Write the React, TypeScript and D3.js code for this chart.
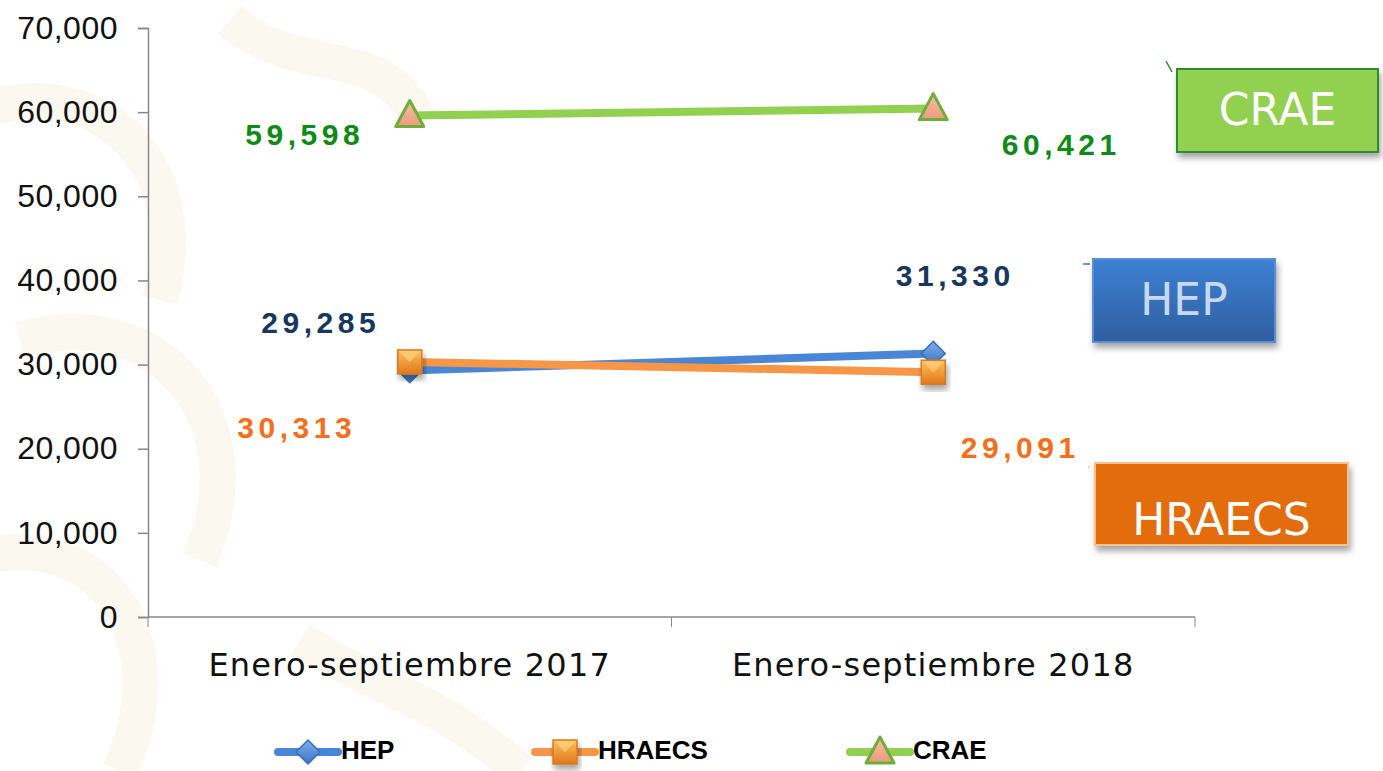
import { useRef, useEffect } from 'react';
import * as d3 from 'd3';

const categories = ['Enero-septiembre 2017', 'Enero-septiembre 2018'];
const seriesNames = ['HEP', 'HRAECS', 'CRAE'];
const hepValues = [29285, 31330];
const hraecsValues = [30313, 29091];
const craeValues = [59598, 60421];
const yTicks = [0, 10000, 20000, 30000, 40000, 50000, 60000, 70000];

const W = 1383;
const H = 771;

export default function App() {
  const svgRef = useRef<SVGSVGElement>(null);

  useEffect(() => {
    if (!svgRef.current) return;
    const svg = d3.select(svgRef.current);
    svg.selectAll('*').remove();

    const margin = { left: 148, right: 188, top: 28, bottom: 154 };

    const x = d3.scaleBand<string>()
      .domain(categories)
      .range([margin.left, W - margin.right]);
    const y = d3.scaleLinear()
      .domain([0, 70000])
      .range([H - margin.bottom, margin.top]);
    const cx = (c: string) => (x(c) || 0) + x.bandwidth() / 2;

    const defs = svg.append('defs');
    const shadow = defs.append('filter').attr('id', 'shadow')
      .attr('x', '-10%').attr('y', '-10%').attr('width', '130%').attr('height', '140%');
    shadow.append('feDropShadow')
      .attr('dx', 2).attr('dy', 5).attr('stdDeviation', 3)
      .attr('flood-color', '#000').attr('flood-opacity', 0.35);

    const grad = (id: string, c1: string, c2: string) => {
      const g = defs.append('linearGradient').attr('id', id)
        .attr('x1', 0).attr('y1', 0).attr('x2', 0).attr('y2', 1);
      g.append('stop').attr('offset', '0%').attr('stop-color', c1);
      g.append('stop').attr('offset', '100%').attr('stop-color', c2);
    };
    grad('hepBox', '#3d80d3', '#2f5f9f');
    grad('hepMark', '#7fb0ee', '#3a72c4');
    grad('hraMark', '#ffc060', '#e07818');
    grad('craeMark', '#f8c0a0', '#ec9a80');

    // faint watermark
    const wm = svg.append('g').attr('fill', 'none').attr('stroke', '#fbf8f0').attr('stroke-width', 36);
    wm.append('path').attr('d', 'M -40 120 C 80 60, 200 150, 160 300');
    wm.append('path').attr('d', 'M 20 340 C 160 300, 260 420, 200 560');
    wm.append('path').attr('d', 'M -30 560 C 100 520, 180 640, 120 771');
    wm.append('path').attr('d', 'M 230 20 C 300 80, 380 40, 420 120');
    wm.append('path').attr('d', 'M 300 640 C 380 690, 440 700, 520 771');

    // Y axis
    const yAxis = svg.append('g')
      .attr('transform', `translate(${margin.left},0)`)
      .call(d3.axisLeft(y).tickValues(yTicks).tickSize(10).tickPadding(20)
        .tickFormat(d => d3.format(',')(d as number)));
    yAxis.selectAll('text')
      .attr('fill', '#111')
      .attr('font-size', '32px')
      .attr('letter-spacing', '0.5px')
      .attr('font-family', 'Liberation Sans, Arial, sans-serif');

    // X axis
    const xAxis = svg.append('g')
      .attr('transform', `translate(0,${H - margin.bottom})`)
      .call(d3.axisBottom(x).tickSize(0).tickPadding(36));
    xAxis.selectAll('text')
      .attr('fill', '#111')
      .attr('font-size', '32px')
      .attr('letter-spacing', '1.2px')
      .attr('font-family', 'DejaVu Sans, sans-serif');
    // boundary ticks
    [margin.left, margin.left + x.bandwidth(), W - margin.right].forEach(p => {
      xAxis.append('line').attr('x1', p).attr('x2', p).attr('y1', 0).attr('y2', 10)
        .attr('stroke', '#888');
    });
    svg.selectAll('.domain').attr('stroke', '#888').attr('stroke-width', 1.5);
    svg.selectAll('.tick line').attr('stroke', '#888').attr('stroke-width', 1.5);
    xAxis.select('.domain').attr('d', `M${margin.left},0H${W - margin.right}`);

    const line = d3.line<number>()
      .x((_, i) => cx(categories[i]))
      .y(d => y(d));

    const series = [
      { name: 'HEP', values: hepValues, color: '#4a86d6', marker: 'diamond' },
      { name: 'HRAECS', values: hraecsValues, color: '#f79646', marker: 'square' },
      { name: 'CRAE', values: craeValues, color: '#92d050', marker: 'triangle' },
    ];

    const drawMarker = (g: d3.Selection<SVGGElement, unknown, null, undefined>, kind: string, px: number, py: number) => {
      if (kind === 'diamond') {
        g.append('path')
          .attr('d', `M${px},${py - 12}L${px + 12},${py}L${px},${py + 12}L${px - 12},${py}Z`)
          .attr('fill', 'url(#hepMark)').attr('stroke', '#3a6fbf').attr('stroke-width', 1.5);
      } else if (kind === 'square') {
        g.append('rect').attr('x', px - 12).attr('y', py - 12).attr('width', 24).attr('height', 24)
          .attr('fill', 'url(#hraMark)').attr('stroke', '#d97a20').attr('stroke-width', 1.5)
          .attr('filter', 'url(#shadow)');
        g.append('path')
          .attr('d', `M${px - 11},${py - 11}L${px},${py}L${px + 11},${py - 11}Z`)
          .attr('fill', '#ffd27a').attr('opacity', 0.7);
      } else {
        g.append('path')
          .attr('d', `M${px},${py - 15}L${px + 14},${py + 11}L${px - 14},${py + 11}Z`)
          .attr('fill', 'url(#craeMark)').attr('stroke', '#6fae3a').attr('stroke-width', 3)
          .attr('stroke-linejoin', 'round');
      }
    };

    const plot = svg.append('g');
    series.forEach(s => {
      plot.append('path').datum(s.values)
        .attr('fill', 'none').attr('stroke', s.color).attr('stroke-width', 8)
        .attr('d', line);
    });
    series.forEach(s => {
      s.values.forEach((v, i) => drawMarker(plot as any, s.marker, cx(categories[i]), y(v)));
    });

    // data labels
    const fmt = d3.format(',');
    const labels = [
      { vals: hepValues, color: '#17375e', dx: [-89, 22], dy: [-46, -75] },
      { vals: hraecsValues, color: '#f46f1c', dx: [-113, 87], dy: [68, 78] },
      { vals: craeValues, color: '#0e8a16', dx: [-105, 128], dy: [22, 38] },
    ];
    labels.forEach(l => {
      l.vals.forEach((v, i) => {
        svg.append('text')
          .attr('x', cx(categories[i]) + l.dx[i])
          .attr('y', y(v) + l.dy[i])
          .attr('text-anchor', 'middle')
          .attr('dominant-baseline', 'middle')
          .attr('fill', l.color)
          .attr('font-size', '30px')
          .attr('font-weight', 'bold')
          .attr('letter-spacing', '4.5px')
          .attr('font-family', 'Liberation Sans, Arial, sans-serif')
          .text(fmt(v));
      });
    });

    // callout boxes
    const boxes = [
      { name: 'CRAE', x: 1177, y: 69, w: 201, h: 83, fill: '#92d050', stroke: '#2e8b2e', text: '#fff', ty: 44, lead: [1166, 61, 1172, 72], leadColor: '#2e8b2e' },
      { name: 'HEP', x: 1093, y: 259, w: 182, h: 83, fill: 'url(#hepBox)', stroke: '#5a8fd8', text: '#c6d9f1', ty: 44, lead: [1083, 264, 1090, 264], leadColor: '#3a72c4' },
      { name: 'HRAECS', x: 1095, y: 463, w: 253, h: 82, fill: '#e36c09', stroke: '#fac090', text: '#fff', ty: 60, lead: [1088, 467, 1090, 467], leadColor: '#fac090' },
    ];
    boxes.forEach(b => {
      svg.append('line')
        .attr('x1', b.lead[0]).attr('y1', b.lead[1]).attr('x2', b.lead[2]).attr('y2', b.lead[3])
        .attr('stroke', b.leadColor).attr('stroke-width', 1.5);
      svg.append('rect')
        .attr('x', b.x).attr('y', b.y).attr('width', b.w).attr('height', b.h)
        .attr('fill', b.fill).attr('stroke', b.stroke).attr('stroke-width', 2)
        .attr('filter', 'url(#shadow)');
      svg.append('text')
        .attr('x', b.x + b.w / 2).attr('y', b.y + b.ty)
        .attr('text-anchor', 'middle').attr('dominant-baseline', 'middle')
        .attr('fill', b.text).attr('font-size', '44px')
        .attr('font-family', 'DejaVu Sans, sans-serif')
        .text(b.name);
    });

    // legend
    const legendX = [278, 535, 850];
    const markers = ['diamond', 'square', 'triangle'];
    const colors = ['#4a86d6', '#f79646', '#92d050'];
    const ly = 752;
    seriesNames.forEach((n, i) => {
      const g = svg.append('g');
      g.append('line').attr('x1', legendX[i]).attr('x2', legendX[i] + 60)
        .attr('y1', ly).attr('y2', ly)
        .attr('stroke', colors[i]).attr('stroke-width', 8).attr('stroke-linecap', 'round');
      drawMarker(g as any, markers[i], legendX[i] + 30, ly);
      g.append('text').attr('x', legendX[i] + 63).attr('y', ly)
        .attr('dominant-baseline', 'middle')
        .attr('font-size', '26px').attr('font-weight', 'bold')
        .attr('font-family', 'Liberation Sans, Arial, sans-serif')
        .attr('fill', '#000')
        .text(n);
    });
  }, []);

  return (
    <div style={{ position: 'absolute', left: 0, top: 0 }}>
      <svg ref={svgRef} width={W} height={H} style={{ display: 'block', background: '#fff' }} />
    </div>
  );
}
